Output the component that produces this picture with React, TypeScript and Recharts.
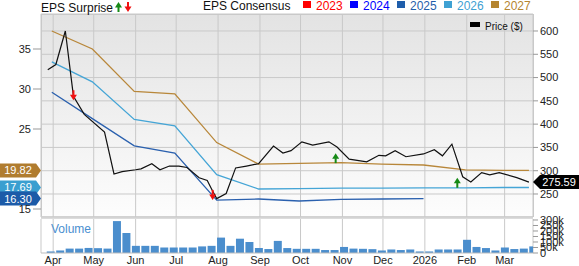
import React from 'react';
import {
  ComposedChart,
  BarChart,
  Bar,
  Line,
  Scatter,
  XAxis,
  YAxis,
  CartesianGrid,
  ReferenceDot,
} from 'recharts';

const FONT = '"Liberation Sans", Arial, Helvetica, sans-serif';

// x axis: one year of days, ticks on the first of each month
const startDate = '2025-03-23';
const endDate = '2026-03-22';
const monthTicks = [
  '2025-04-01', '2025-05-01', '2025-06-01', '2025-07-01', '2025-08-01', '2025-09-01',
  '2025-10-01', '2025-11-01', '2025-12-01', '2026-01-01', '2026-02-01', '2026-03-01',
];
const monthLabels = ['Apr', 'May', 'Jun', 'Jul', 'Aug', 'Sep', 'Oct', 'Nov', 'Dec', '2026', 'Feb', 'Mar'];

// price ($)
const priceDates = [
  '2025-03-28', '2025-04-03', '2025-04-10', '2025-04-16', '2025-04-24', '2025-05-09',
  '2025-05-16', '2025-05-22', '2025-06-01', '2025-06-05', '2025-06-13', '2025-06-19',
  '2025-06-26', '2025-07-03', '2025-07-09', '2025-07-18', '2025-07-24', '2025-07-27',
  '2025-07-31', '2025-08-07', '2025-08-14', '2025-08-22', '2025-08-31', '2025-09-11',
  '2025-09-18', '2025-09-24', '2025-10-02', '2025-10-10', '2025-10-22', '2025-10-28',
  '2025-11-06', '2025-11-19', '2025-11-28', '2025-12-03', '2025-12-10', '2025-12-18',
  '2025-12-31', '2026-01-08', '2026-01-14', '2026-01-21', '2026-01-29', '2026-02-04',
  '2026-02-12', '2026-02-18', '2026-02-25', '2026-03-10', '2026-03-19',
];
const priceValues = [
  517, 528, 600, 460, 421, 383,
  293, 298, 302, 304, 315, 302,
  310, 310, 307, 285, 279, 262,
  240, 251, 306, 310, 315, 353,
  338, 343, 362, 355, 362, 351,
  325, 319, 333, 332, 343, 330,
  336, 345, 332, 357, 287, 276,
  296, 291, 296, 285, 275.59,
];

// EPS consensus by fiscal year, month-end readings
const consensusDates = [
  '2025-03-31', '2025-04-30', '2025-05-31', '2025-06-30', '2025-07-31', '2025-08-31',
  '2025-09-30', '2025-10-31', '2025-11-30', '2025-12-31', '2026-01-31', '2026-02-28', '2026-03-19',
];
const eps2027 = [37.25, 35.0, 29.7, 29.4, 23.3, 20.6, 20.7, 20.8, 20.6, 20.5, 19.9, 19.82, 19.82];
const eps2026 = [33.4, 30.9, 26.2, 25.4, 19.3, 17.5, 17.55, 17.6, 17.6, 17.65, 17.65, 17.69, 17.69];
const eps2025 = [29.6, 26.3, 22.9, 22.0, 16.1, 16.25, 16.0, 16.2, 16.25, 16.3];

// EPS surprise markers
const surpriseDates = ['2025-04-16', '2025-07-28', '2025-10-27', '2026-01-25'];
const surprisePrices = [462, 248, 327, 274];
const surpriseDirs = ['down', 'down', 'up', 'up'];

// weekly volume (thousands)
const volumeWeeks = [
  '2025-03-30', '2025-04-06', '2025-04-13', '2025-04-20', '2025-04-27', '2025-05-04',
  '2025-05-11', '2025-05-18', '2025-05-25', '2025-06-01', '2025-06-08', '2025-06-15',
  '2025-06-22', '2025-06-29', '2025-07-06', '2025-07-13', '2025-07-20', '2025-07-27',
  '2025-08-03', '2025-08-10', '2025-08-17', '2025-08-24', '2025-08-31', '2025-09-07',
  '2025-09-14', '2025-09-21', '2025-09-28', '2025-10-05', '2025-10-12', '2025-10-19',
  '2025-10-26', '2025-11-02', '2025-11-09', '2025-11-16', '2025-11-23', '2025-11-30',
  '2025-12-07', '2025-12-14', '2025-12-21', '2025-12-28', '2026-01-04', '2026-01-11',
  '2026-01-18', '2026-01-25', '2026-02-01', '2026-02-08', '2026-02-15', '2026-02-22',
  '2026-03-01', '2026-03-08', '2026-03-15', '2026-03-22',
];
const volumeK = [
  14, 23, 40, 40, 46, 44,
  40, 290, 182, 65, 65, 65,
  50, 50, 50, 50, 60, 65,
  140, 65, 130, 100, 45, 36,
  110, 45, 38, 38, 38, 27,
  27, 55, 40, 38, 35, 23,
  32, 27, 32, 14, 14, 32,
  32, 32, 120, 55, 45, 23,
  50, 36, 40, 60,
];

const epsTicks = [15, 25, 30, 35];
const priceTicks = [250, 300, 350, 400, 450, 500, 550, 600];
const volumeTicks = [0, 50000, 100000, 150000, 200000, 250000, 300000];

const yearLegend = ['2023', '2024', '2025', '2026', '2027'];
const yearColors = ['#ff0000', '#0000ff', '#1f5eab', '#3fa1d3', '#b5852f'];

const lastPrice = 275.59;
const badgeValues = [19.82, 17.69, 16.3];
const badgeColors = ['#b07c2f', '#3a9fd0', '#1c5ba8'];

const ts = (s: string) => Date.parse(s + 'T00:00:00Z');
const T0 = ts(startDate);
const T1 = ts(endDate);
const tickTs = monthTicks.map(ts);

const priceData = priceDates.map((d, i) => ({ t: ts(d), v: priceValues[i] }));
const toSeries = (vals: number[]) => vals.map((v, i) => ({ t: ts(consensusDates[i]), v }));
const s2027 = toSeries(eps2027);
const s2026 = toSeries(eps2026);
const s2025 = toSeries(eps2025);
const surpriseData = surpriseDates.map((d, i) => ({ t: ts(d), v: surprisePrices[i], dir: surpriseDirs[i] }));
const volumeData = volumeWeeks.map((d, i) => ({ t: ts(d), v: volumeK[i] * 1000 }));

const tickStyle = { fontSize: 11, fill: '#222', fontFamily: FONT };
const GRID = '#c9c9c9';

const fmtMonth = (v: number) => monthLabels[tickTs.indexOf(v)] ?? '';
const fmtVol = (v: number) => (v === 0 ? '0' : `${v / 1000}k`);

function Arrow({ cx, cy, dir }: { cx: number; cy: number; dir: string }) {
  if (dir === 'up') {
    return (
      <g fill="#168a16">
        <polygon points={`${cx},${cy - 5} ${cx - 3.5},${cy + 0.5} ${cx + 3.5},${cy + 0.5}`} />
        <rect x={cx - 1} y={cy} width={2} height={5} />
      </g>
    );
  }
  return (
    <g fill="#f01010">
      <rect x={cx - 1} y={cy - 5} width={2} height={5} />
      <polygon points={`${cx - 3.5},${cy - 0.5} ${cx + 3.5},${cy - 0.5} ${cx},${cy + 5}`} />
    </g>
  );
}

const SurpriseShape = (props: any) => <Arrow cx={props.cx} cy={props.cy} dir={props.payload?.dir} />;

const leftBadge = (value: number, color: string) => (props: any) => {
  const { cx, cy } = props;
  const h = 7;
  return (
    <g>
      <polygon
        points={`${cx - 41},${cy - h} ${cx - 5},${cy - h} ${cx},${cy} ${cx - 5},${cy + h} ${cx - 41},${cy + h}`}
        fill={color}
      />
      <text x={cx - 23} y={cy + 4} textAnchor="middle" fill="#fff" fontSize={11} fontFamily={FONT}>
        {value.toFixed(2)}
      </text>
    </g>
  );
};

const priceBadge = (props: any) => {
  const { cx, cy } = props;
  const h = 7;
  return (
    <g>
      <polygon
        points={`${cx},${cy} ${cx + 7},${cy - h} ${cx + 46},${cy - h} ${cx + 46},${cy + h} ${cx + 7},${cy + h}`}
        fill="#000"
      />
      <text x={cx + 26} y={cy + 4} textAnchor="middle" fill="#fff" fontSize={11} fontFamily={FONT}>
        {lastPrice.toFixed(2)}
      </text>
    </g>
  );
};

export default function App() {
  return (
    <div
      style={{
        position: 'absolute',
        left: 0,
        top: 0,
        width: 579,
        height: 266,
        background: '#fff',
        overflow: 'hidden',
        fontFamily: FONT,
      }}
    >
      {/* panel backgrounds */}
      <div
        style={{
          position: 'absolute',
          left: 41,
          top: 14,
          width: 493,
          height: 203,
          boxSizing: 'border-box',
          borderLeft: `1px solid ${GRID}`,
          borderRight: `1px solid ${GRID}`,
          borderTop: `1px solid ${GRID}`,
          background: 'linear-gradient(#e3e3e3, #fdfdfd)',
        }}
      />
      <div style={{ position: 'absolute', left: 41, top: 216, width: 492, height: 3, background: '#dcdcdc' }} />

      {/* volume panel */}
      <div style={{ position: 'absolute', left: 0, top: 0 }}>
        <BarChart width={579} height={266} data={volumeData} margin={{ top: 219, right: 0, bottom: 0, left: 41 }}>
          <CartesianGrid vertical horizontal={false} stroke={GRID} />
          <XAxis
            dataKey="t"
            type="number"
            domain={[T0, T1]}
            allowDataOverflow
            ticks={tickTs}
            interval={0}
            tickFormatter={fmtMonth}
            tick={tickStyle}
            tickSize={0}
            tickMargin={3}
            tickLine={false}
            axisLine={{ stroke: '#bdbdbd' }}
            height={13}
          />
          <YAxis
            orientation="right"
            width={46}
            domain={[0, 309000]}
            ticks={volumeTicks}
            interval={0}
            tickFormatter={fmtVol}
            tick={tickStyle}
            tickSize={5}
            tickLine={{ stroke: '#999' }}
            axisLine={false}
          />
          <Bar dataKey="v" fill="#4b8ecd" barSize={8} isAnimationActive={false} />
        </BarChart>
      </div>

      {/* price / EPS panel */}
      <div style={{ position: 'absolute', left: 0, top: 0 }}>
        <ComposedChart width={579} height={266} margin={{ top: 14, right: 0, bottom: 49, left: 0 }}>
          <CartesianGrid yAxisId="price" stroke={GRID} fill="none" />
          <XAxis
            dataKey="t"
            type="number"
            domain={[T0, T1]}
            allowDataOverflow
            ticks={tickTs}
            interval={0}
            hide
          />
          <YAxis
            yAxisId="eps"
            orientation="left"
            width={41}
            domain={[14, 39.375]}
            allowDataOverflow
            ticks={epsTicks}
            interval={0}
            tick={tickStyle}
            tickSize={8}
            tickLine={{ stroke: '#999' }}
            axisLine={false}
          />
          <YAxis
            yAxisId="price"
            orientation="right"
            width={46}
            domain={[200.6, 636.5]}
            allowDataOverflow
            ticks={priceTicks}
            interval={0}
            tick={tickStyle}
            tickSize={5}
            tickLine={{ stroke: '#999' }}
            axisLine={false}
          />
          <Line data={s2027} dataKey="v" yAxisId="eps" type="linear" stroke="#b8873a" strokeWidth={1.3} dot={false} isAnimationActive={false} />
          <Line data={s2026} dataKey="v" yAxisId="eps" type="linear" stroke="#45a5d6" strokeWidth={1.3} dot={false} isAnimationActive={false} />
          <Line data={s2025} dataKey="v" yAxisId="eps" type="linear" stroke="#2a60ae" strokeWidth={1.3} dot={false} isAnimationActive={false} />
          <Line data={priceData} dataKey="v" yAxisId="price" type="linear" stroke="#111" strokeWidth={1.2} dot={false} isAnimationActive={false} />
          <Scatter data={surpriseData} dataKey="v" yAxisId="price" shape={SurpriseShape} isAnimationActive={false} />
          {badgeValues.map((v, i) => (
            <ReferenceDot
              key={i}
              yAxisId="eps"
              x={T0}
              y={v}
              ifOverflow="visible"
              shape={leftBadge(v, badgeColors[i])}
            />
          ))}
          <ReferenceDot yAxisId="price" x={T1} y={lastPrice} ifOverflow="visible" shape={priceBadge} />
        </ComposedChart>
      </div>

      {/* legends and labels */}
      <svg width={579} height={266} style={{ position: 'absolute', left: 0, top: 0, pointerEvents: 'none' }}>
        <text x={41} y={12} fontSize={12} fill="#111" fontFamily={FONT}>EPS Surprise</text>
        <Arrow cx={118.5} cy={7} dir="up" />
        <Arrow cx={128} cy={7} dir="down" />
        <text x={203} y={10} fontSize={12} fill="#111" fontFamily={FONT}>EPS Consensus</text>
        {yearLegend.map((y, i) => (
          <g key={y}>
            <rect x={303 + i * 47} y={1} width={8} height={7} fill={yearColors[i]} />
            <text x={316 + i * 47} y={9.5} fontSize={12} fill={yearColors[i]} fontFamily={FONT}>{y}</text>
          </g>
        ))}
        <rect x={470} y={22} width={10} height={5} fill="#000" />
        <text x={485} y={30} fontSize={10} fill="#111" fontFamily={FONT}>Price ($)</text>
        <text x={51} y={233} fontSize={12} fill="#4a8fd0" fontFamily={FONT}>Volume</text>
      </svg>
    </div>
  );
}
